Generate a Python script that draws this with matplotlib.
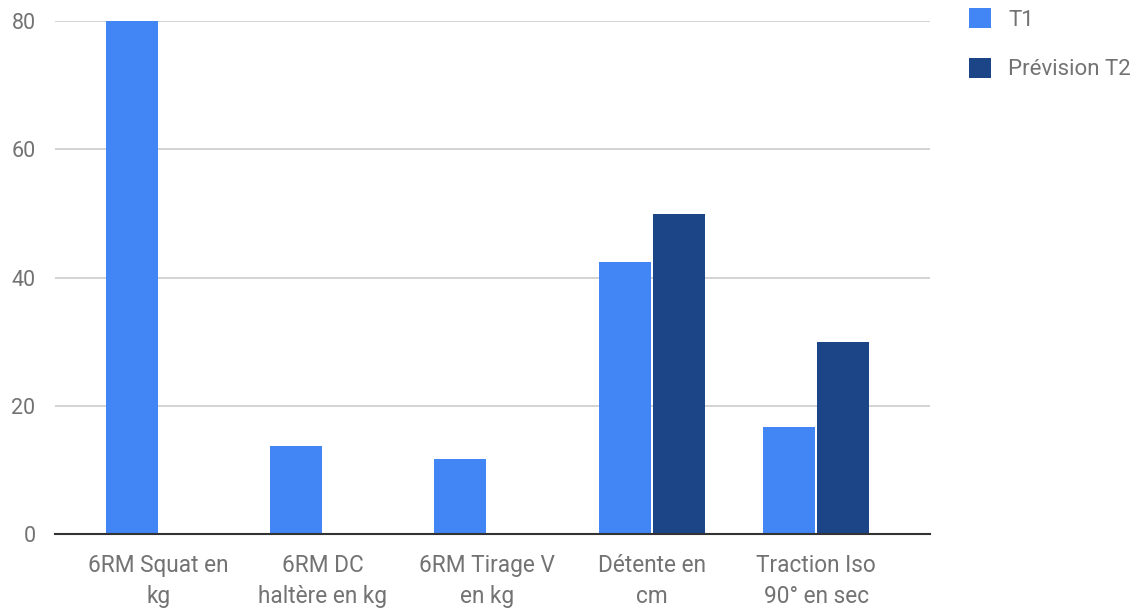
import numpy as np
import matplotlib.pyplot as plt

plt.rcParams['font.family'] = ['Roboto', 'DejaVu Sans']

# Valeurs des tests
categories = ['6RM Squat en\nkg', '6RM DC\nhaltère en kg', '6RM Tirage V\nen kg',
              'Détente en\ncm', 'Traction Iso\n90° en sec']
t1 = [80, 13.75, 11.8, 42.5, 16.8]
t2 = [np.nan, np.nan, np.nan, 50, 30]
series_names = ['T1', 'Prévision T2']
colors = ['#4285f4', '#1c4587']

fig = plt.figure(figsize=(11.38, 6.1), dpi=100)
ax = fig.add_axes([0.0483, 0.124, 0.7687, 0.8416])

x = np.arange(len(categories))
w = 0.316
gap = 0.006
b1 = ax.bar(x - w / 2 - gap, t1, w, color=colors[0], label=series_names[0], zorder=3)
b2 = ax.bar(x + w / 2 + gap, t2, w, color=colors[1], label=series_names[1], zorder=3)

ax.set_xlim(-0.63, 4.69)
ax.set_ylim(0, 80)
ax.set_yticks([0, 20, 40, 60, 80])
ax.set_xticks(x)
ax.set_xticklabels(categories, fontsize=16.3, color='#737373', linespacing=1.45)
ax.tick_params(axis='y', labelsize=15.5, labelcolor='#737373', length=0, pad=14)
ax.tick_params(axis='x', length=0, pad=14)
ax.grid(axis='y', color='#cccccc', linewidth=1.2, zorder=0)
for s in ['top', 'right', 'left']:
    ax.spines[s].set_visible(False)
ax.spines['bottom'].set_color('#333333')
ax.spines['bottom'].set_linewidth(1.5)
ax.spines['bottom'].set_zorder(4)

leg = fig.legend(handles=[b1, b2], loc='upper left', bbox_to_anchor=(0.834, 1.019),
                 frameon=False, fontsize=16, handlelength=1.0, handleheight=1.0,
                 labelspacing=1.2, handletextpad=0.75, labelcolor='#737373')

fig.savefig('out.png', dpi=100)
